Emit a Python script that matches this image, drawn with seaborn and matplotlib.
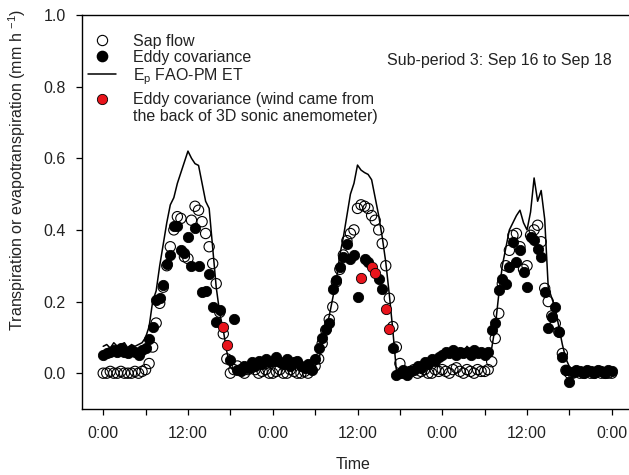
import numpy as np
import pandas as pd
import matplotlib
matplotlib.use("Agg")
import matplotlib.pyplot as plt
from matplotlib.lines import Line2D
import seaborn as sns

# Half-hourly records from Sep 16 00:00 to Sep 19 00:00 (hours since start)
hours = np.arange(0, 72.5, 0.5)

sap_flow = [
    0.000, 0.000, 0.005, 0.000, 0.000, 0.005, 0.000, 0.000, 0.000, 0.005, 0.000, 0.005,
    0.010, 0.027, 0.073, 0.140, 0.195, 0.240, 0.300, 0.353, 0.400, 0.437, 0.432, 0.325,
    0.320, 0.427, 0.466, 0.455, 0.423, 0.390, 0.353, 0.306, 0.250, 0.170, 0.110, 0.040,
    0.000, 0.010, 0.020, 0.010, 0.000, 0.010, 0.015, 0.010, 0.000, 0.005, 0.010, 0.000,
    0.000, 0.005, 0.010, 0.000, 0.000, 0.010, 0.005, 0.000, 0.000, 0.005, 0.000, 0.010,
    0.020, 0.040, 0.083, 0.120, 0.150, 0.185, 0.255, 0.290, 0.330, 0.370, 0.390, 0.400,
    0.460, 0.470, 0.466, 0.460, 0.440, 0.427, 0.400, 0.362, 0.300, 0.209, 0.130, 0.073,
    0.027, 0.000, 0.000, 0.005, 0.010, 0.000, 0.005, 0.010, 0.000, 0.000, 0.010, 0.005,
    0.010, 0.005, 0.000, 0.010, 0.015, 0.005, 0.000, 0.010, 0.005, 0.000, 0.010, 0.005,
    0.005, 0.010, 0.032, 0.097, 0.167, 0.250, 0.300, 0.343, 0.385, 0.390, 0.353, 0.290,
    0.300, 0.385, 0.400, 0.413, 0.367, 0.237, 0.200, 0.160, 0.139, 0.115, 0.055, 0.008,
    0.000, 0.000, 0.005, 0.000, 0.000, 0.005, 0.000, 0.000, 0.005, 0.000, 0.000, 0.000,
    0.000,
]

nan = np.nan
eddy_cov = [
    0.050, 0.055, 0.060, 0.065, 0.060, 0.070, 0.060, 0.055, 0.065, 0.060, 0.050, 0.065,
    0.070, 0.095, 0.128, 0.204, 0.210, 0.246, 0.306, 0.330, 0.410, 0.410, 0.343, 0.335,
    0.380, 0.300, 0.404, 0.300, 0.227, 0.230, 0.278, 0.185, 0.143, 0.176, nan, nan,
    0.036, 0.150, 0.010, 0.005, 0.020, 0.015, 0.030, 0.020, 0.035, 0.025, 0.040, 0.030,
    0.035, 0.045, 0.030, 0.025, 0.040, 0.020, 0.030, 0.035, 0.020, 0.015, 0.025, 0.010,
    0.040, 0.070, 0.097, 0.122, 0.139, 0.234, 0.260, 0.297, 0.325, 0.362, 0.320, 0.330,
    0.213, nan, 0.320, 0.310, nan, nan, 0.264, 0.236, nan, nan, 0.069, -0.006,
    0.000, 0.010, -0.005, 0.005, 0.010, 0.020, 0.015, 0.030, 0.025, 0.040, 0.035, 0.045,
    0.050, 0.060, 0.055, 0.065, 0.050, 0.060, 0.055, 0.060, 0.050, 0.065, 0.055, 0.060,
    0.050, 0.060, 0.120, 0.139, 0.232, 0.264, 0.250, 0.297, 0.367, 0.311, 0.343, 0.283,
    0.241, 0.381, 0.371, 0.348, 0.325, 0.227, 0.125, 0.157, 0.185, 0.115, 0.046, 0.010,
    -0.024, 0.004, 0.010, 0.005, 0.000, 0.010, 0.005, 0.000, 0.010, 0.005, 0.000, 0.010,
    0.005,
]

et_fao_pm = [
    0.075, 0.080, 0.070, 0.085, 0.075, 0.080, 0.085, 0.070, 0.080, 0.075, 0.080, 0.085,
    0.100, 0.130, 0.200, 0.230, 0.300, 0.360, 0.420, 0.470, 0.490, 0.530, 0.560, 0.590,
    0.620, 0.600, 0.585, 0.580, 0.530, 0.480, 0.460, 0.350, 0.240, 0.167, 0.120, 0.060,
    0.018, 0.005, 0.010, 0.020, 0.015, 0.025, 0.030, 0.020, 0.035, 0.030, 0.040, 0.035,
    0.040, 0.030, 0.035, 0.025, 0.030, 0.020, 0.025, 0.030, 0.020, 0.015, 0.020, 0.015,
    0.020, 0.036, 0.080, 0.120, 0.160, 0.210, 0.260, 0.330, 0.380, 0.440, 0.500, 0.530,
    0.581, 0.567, 0.560, 0.555, 0.540, 0.490, 0.440, 0.380, 0.310, 0.220, 0.120, 0.008,
    0.000, -0.005, 0.005, 0.010, 0.005, 0.015, 0.020, 0.030, 0.035, 0.040, 0.045, 0.050,
    0.055, 0.060, 0.055, 0.065, 0.060, 0.070, 0.060, 0.075, 0.065, 0.070, 0.060, 0.065,
    0.060, 0.065, 0.070, 0.130, 0.220, 0.300, 0.350, 0.400, 0.420, 0.440, 0.455, 0.420,
    0.400, 0.450, 0.545, 0.480, 0.510, 0.430, 0.240, 0.210, 0.180, 0.130, 0.080, 0.040,
    0.018, 0.010, 0.005, 0.010, 0.000, 0.005, 0.010, 0.000, 0.005, 0.000, 0.010, 0.005,
    0.000,
]

# Eddy covariance records taken while wind came from behind the sonic anemometer
back_wind_hours = [17.0, 17.5, 36.5, 38.0, 38.5, 40.0, 40.5]
back_wind_eddy = [0.128, 0.080, 0.267, 0.297, 0.280, 0.180, 0.122]

tick_hours = [0, 12, 24, 36, 48, 60, 72]
tick_labels = ["0:00", "12:00", "0:00", "12:00", "0:00", "12:00", "0:00"]
minor_hours = [6, 18, 30, 42, 54, 66]
y_ticks = [0.0, 0.2, 0.4, 0.6, 0.8, 1.0]

df = pd.DataFrame({"hour": hours, "sap": sap_flow, "eddy": eddy_cov, "et": et_fao_pm})
df_back = pd.DataFrame({"hour": back_wind_hours, "eddy": back_wind_eddy})

sns.set_style("ticks")
plt.rcParams["font.family"] = ["Liberation Sans", "DejaVu Sans"]
plt.rcParams["mathtext.fontset"] = "custom"
plt.rcParams["mathtext.rm"] = "Liberation Sans"
plt.rcParams["mathtext.it"] = "Liberation Sans:italic"

FS = 11.5
RED = "#e8141c"
MS = 7.4
TXT = "#222222"

W, H = 629, 475
fig = plt.figure(figsize=(W / 100, H / 100), dpi=100)
ax = fig.add_axes([82 / W, 1 - 409 / H, 551 / W, 394 / H])

sns.scatterplot(data=df, x="hour", y="sap", ax=ax, marker="o", s=MS ** 2,
                facecolors="none", edgecolor="black", linewidth=0.8, zorder=2)
sns.scatterplot(data=df, x="hour", y="eddy", ax=ax, marker="o", s=MS ** 2,
                color="black", edgecolor="black", linewidth=0.6, zorder=3)
sns.lineplot(data=df, x="hour", y="et", ax=ax, color="black", lw=1.1,
             estimator=None, zorder=4)
sns.scatterplot(data=df_back, x="hour", y="eddy", ax=ax, marker="o", s=MS ** 2,
                color=RED, edgecolor="black", linewidth=0.6, zorder=5)

ax.set_xlim(-3, 75)
ax.set_ylim(-0.1, 1.0)
ax.set_xticks(tick_hours)
ax.set_xticklabels(tick_labels)
ax.set_xticks(minor_hours, minor=True)
ax.set_yticks(y_ticks)
ax.set_yticklabels([f"{v:.1f}" for v in y_ticks])
ax.tick_params(axis="both", which="both", direction="out", length=4.3, width=0.9,
               color="black", labelsize=FS, labelcolor=TXT)
ax.tick_params(axis="x", which="both", pad=8)
ax.tick_params(axis="y", which="both", pad=7.5)
for sp in ax.spines.values():
    sp.set_linewidth(1.0)
    sp.set_color("black")

ax.set_xlabel("Time", fontsize=FS, color=TXT)
ax.xaxis.set_label_coords((353 - 82) / 551, (409 - 457) / 394)
ax.set_ylabel("Transpiration or evapotranspiration (mm h $^{\\mathregular{-1}}$)",
              fontsize=FS, color=TXT)
ax.yaxis.set_label_coords((28 - 82) / 551, (409 - 170) / 394)

h_sap = Line2D([], [], ls="none", marker="o", ms=MS, mfc="none", mec="black", mew=0.8)
h_eddy = Line2D([], [], ls="none", marker="o", ms=MS, mfc="black", mec="black")
h_et = Line2D([], [], color="black", lw=1.1)
h_back = Line2D([], [], ls="none", marker="o", ms=MS, mfc=RED, mec="black", mew=0.6)
h_blank = Line2D([], [], ls="none")

common = dict(frameon=False, fontsize=FS, handlelength=1.75, handletextpad=1.05,
              borderpad=0, borderaxespad=0, loc="upper left",
              bbox_transform=fig.transFigure, labelcolor=TXT)
leg1 = ax.legend([h_sap, h_eddy, h_et],
                 ["Sap flow", "Eddy covariance", "E$_\\mathregular{p}$ FAO-PM ET"],
                 bbox_to_anchor=(88 / W, 1 - 34 / H), labelspacing=0.06, **common)
ax.add_artist(leg1)
ax.legend([h_back, h_blank],
          ["Eddy covariance (wind came from", "the back of 3D sonic anemometer)"],
          bbox_to_anchor=(88 / W, 1 - 92.5 / H), labelspacing=0.12, **common)

fig.text(387 / W, 1 - 61 / H, "Sub-period 3: Sep 16 to Sep 18", fontsize=FS,
         ha="left", va="center", color=TXT)

fig.savefig("out.png", dpi=100)
